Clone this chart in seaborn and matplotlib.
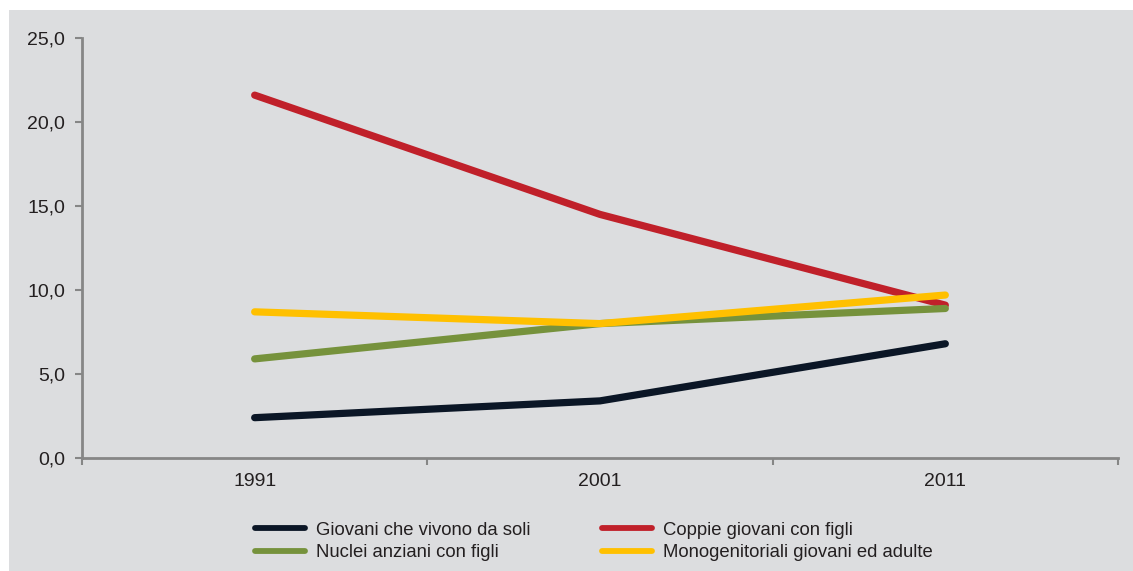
import matplotlib
matplotlib.use("Agg")
import matplotlib.pyplot as plt
import seaborn as sns
import pandas as pd
from matplotlib.patches import Rectangle

years = ["1991", "2001", "2011"]
series_names = [
    "Giovani che vivono da soli",
    "Coppie giovani con figli",
    "Nuclei anziani con figli",
    "Monogenitoriali giovani ed adulte",
]
giovani_soli = [2.4, 3.4, 6.8]
coppie_giovani = [21.6, 14.5, 9.1]
nuclei_anziani = [5.9, 8.0, 8.9]
monogenitoriali = [8.7, 8.0, 9.7]
y_ticks = [0, 5, 10, 15, 20, 25]
y_tick_labels = ["0,0", "5,0", "10,0", "15,0", "20,0", "25,0"]

colors = ["#0b1626", "#c0202a", "#76923c", "#ffc000"]
bg = "#dcdddf"
spine_c = "#868686"
text_c = "#231f20"

rows = []
for name, vals in zip(series_names, [giovani_soli, coppie_giovani, nuclei_anziani, monogenitoriali]):
    for i, (yr, v) in enumerate(zip(years, vals)):
        rows.append({"serie": name, "pos": i, "anno": yr, "valore": v})
df = pd.DataFrame(rows)

sns.set_theme(style="white")
plt.rcParams["font.family"] = ["Liberation Sans", "DejaVu Sans"]

fig = plt.figure(figsize=(11.33, 5.71), dpi=100)
fig.patch.set_facecolor("white")
fig.patches.append(Rectangle((9 / 1133, 0), 1 - 9 / 1133, 1 - 10 / 571,
                             transform=fig.transFigure, facecolor=bg,
                             edgecolor="none", zorder=-10))
ax = fig.add_axes([82 / 1133, 1 - 458 / 571, (1118 - 82) / 1133, (458 - 38) / 571])
ax.set_facecolor(bg)
ax.patch.set_alpha(0)

sns.lineplot(data=df, x="pos", y="valore", hue="serie", hue_order=series_names,
             palette=colors, linewidth=5.2, ax=ax, legend=False)
for ln in ax.lines:
    ln.set_solid_capstyle("round")
    ln.set_solid_joinstyle("round")

ax.set_xlim(-0.5, len(years) - 0.5)
ax.set_ylim(0, 25)
ax.set_xticks(range(len(years)))
ax.set_xticklabels(years)
ax.set_xticks([i - 0.5 for i in range(len(years) + 1)], minor=True)
ax.tick_params(axis="x", which="major", length=0, pad=11, labelsize=14, colors=text_c)
ax.tick_params(axis="x", which="minor", length=5, width=1.5, color=spine_c, direction="out", bottom=True)
ax.set_yticks(y_ticks)
ax.set_yticklabels(y_tick_labels)
ax.tick_params(axis="y", length=5, width=1.5, color=spine_c, pad=7, labelsize=14, labelcolor=text_c, left=True)
ax.set_xlabel("")
ax.set_ylabel("")
for s in ["top", "right"]:
    ax.spines[s].set_visible(False)
for s in ["left", "bottom"]:
    ax.spines[s].set_color(spine_c)
    ax.spines[s].set_linewidth(2)

order = [0, 2, 1, 3]
handles = [plt.Line2D([], [], color=colors[i], linewidth=4.2, solid_capstyle="round") for i in order]
labels = [series_names[i] for i in order]
fig.legend(handles, labels, ncol=2, loc="center", bbox_to_anchor=(594 / 1133, 1 - 541.5 / 571),
           frameon=False, fontsize=13.3, handlelength=2.7, handletextpad=0.6,
           columnspacing=3.9, labelspacing=0.28, labelcolor=text_c)

fig.savefig("out.png", dpi=100, facecolor=fig.get_facecolor())
